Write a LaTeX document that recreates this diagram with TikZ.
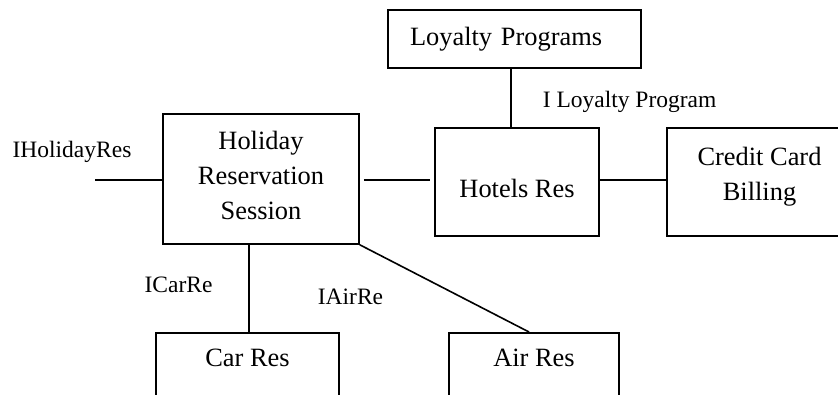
\documentclass[tikz,border=0pt]{standalone}
\usepackage{fontspec}
\setmainfont{Liberation Serif}
\begin{document}
\begin{tikzpicture}[x=1pt,y=-1pt,
  line width=1.6pt,
  box/.style={draw, rectangle, inner sep=0pt, align=center,
    font=\fontsize{26.4}{35}\selectfont},
  lbl/.style={inner sep=0pt, font=\fontsize{23.5}{28}\selectfont},
  gap/.style={shorten <=4pt, shorten >=4pt}]
\useasboundingbox (0,0) rectangle (838,394);
\clip (0,0) rectangle (838,394);

% components
\node[box, minimum width=253pt, minimum height=58pt, text width=209pt, align=left]
  (loyalty) at (514.5,39) {Loyalty Programs};
\node[box, minimum width=196pt, minimum height=130pt, text depth=8pt]
  (holiday) at (261,179) {Holiday\\Reservation\\Session};
\node[box, minimum width=164pt, minimum height=108pt, text height=30pt, text depth=0pt]
  (hotels) at (517,182) {Hotels Res};
\node[box, minimum width=185pt, minimum height=108pt, text depth=16pt]
  (credit) at (759.5,182) {Credit Card\\Billing};
\node[box, anchor=north, minimum width=183pt, text height=18pt, text depth=60pt, inner ysep=16pt]
  (carres) at (247.5,332) {Car Res};
\node[box, anchor=north, minimum width=170pt, text height=18pt, text depth=60pt, inner ysep=16pt]
  (airres) at (534,332) {Air Res};

% interface labels
\node[lbl] (lholiday) at (72,152) {IHolidayRes};
\node[lbl, anchor=west] (lloyalty) at (542,102) {I Loyalty Program};
\node[lbl] (lcar) at (178.5,285) {ICarRe};
\node[lbl] (lair) at (350.5,297) {IAirRe};

% connectors
\coordinate (hin) at (95,180);
\draw (hin) -- (hin -| holiday.west);
\draw[gap] (holiday.east |- hin) -- (hotels.west |- hin);
\draw (hotels.east |- hin) -- (credit.west |- hin);
\draw ([xshift=-3.5pt]loyalty.south) -- ([xshift=-3.5pt]loyalty.south |- hotels.north);
\draw ([xshift=1.5pt]carres.north |- holiday.south) -- ([xshift=1.5pt]carres.north);
\draw (holiday.south east) -- ([xshift=-5pt]airres.north);
\end{tikzpicture}
\end{document}
